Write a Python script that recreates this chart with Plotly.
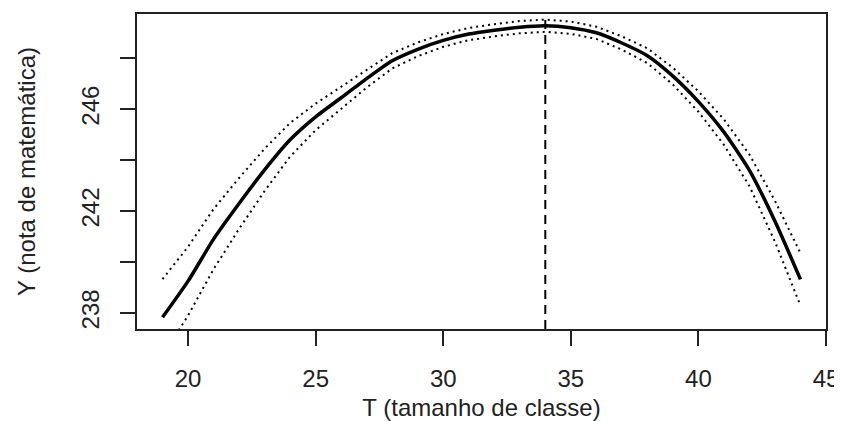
import plotly.graph_objects as go

# ---- data ----
T_vals = list(range(19, 45))
Y_fit = [237.83, 239.25, 240.9, 242.3, 243.62, 244.8, 245.7, 246.45, 247.2, 247.9,
         248.35, 248.7, 248.95, 249.1, 249.22, 249.28, 249.2, 249.0, 248.6, 248.1,
         247.3, 246.3, 245.1, 243.6, 241.6, 239.32]
half_width = [1.5, 1.35, 1.18, 1.0, 0.83, 0.66, 0.52, 0.42, 0.35, 0.3,
              0.27, 0.25, 0.24, 0.24, 0.24, 0.24, 0.24, 0.24, 0.26, 0.29,
              0.33, 0.4, 0.5, 0.62, 0.8, 1.03]
x_ticks = [20, 25, 30, 35, 40, 45]
y_ticks = [238, 240, 242, 244, 246, 248]
y_ticktext = ["238", "", "242", "", "246", ""]
x_title = "T (tamanho de classe)"
y_title = "Y (nota de matemática)"

upper = [y + h for y, h in zip(Y_fit, half_width)]
lower = [y - h for y, h in zip(Y_fit, half_width)]
T_opt = T_vals[Y_fit.index(max(Y_fit))]

FONT = "Liberation Sans"
INK = "#222"

fig = go.Figure()
fig.add_trace(go.Scatter(x=T_vals, y=upper, mode="lines",
                         line=dict(color="black", width=2, dash="2px,4px")))
fig.add_trace(go.Scatter(x=T_vals, y=lower, mode="lines",
                         line=dict(color="black", width=2, dash="2px,4px")))
fig.add_trace(go.Scatter(x=T_vals, y=Y_fit, mode="lines",
                         line=dict(color="black", width=3.5, shape="spline", smoothing=0.6)))
fig.add_shape(type="line", x0=T_opt, x1=T_opt, y0=0, y1=1, xref="x", yref="paper",
              line=dict(color="black", width=2, dash="9px,6px"))

xr = [min(T_vals) - 0.04 * (max(T_vals) - min(T_vals)),
      max(T_vals) + 0.04 * (max(T_vals) - min(T_vals))]
yr_span = max(Y_fit) - min(Y_fit)
yr = [min(Y_fit) - 0.04 * yr_span, max(Y_fit) + 0.04 * yr_span]

# page body has an 8px default margin, so the figure is sized to fit the window
fig.update_layout(
    width=834, height=413,
    margin=dict(l=129, r=16, t=6, b=92),
    paper_bgcolor="white", plot_bgcolor="white",
    showlegend=False,
    font=dict(family=FONT, size=24, color=INK),
)
fig.update_xaxes(
    range=xr, tickvals=x_ticks, ticks="outside", ticklen=15, tickwidth=1.5,
    tickcolor=INK, showgrid=False, zeroline=False, automargin=False,
    showline=True, mirror=True, linecolor=INK, linewidth=1.5,
    tickfont=dict(family=FONT, size=24, color=INK),
    ticklabelstandoff=12,
    title=dict(text=x_title, font=dict(family=FONT, size=24, color=INK), standoff=15),
)
fig.update_yaxes(
    range=yr, tickvals=y_ticks, ticktext=y_ticktext, tickangle=-90,
    ticks="outside", ticklen=15, tickwidth=1.5, tickcolor=INK,
    showgrid=False, zeroline=False, automargin=False,
    showline=True, mirror=True, linecolor=INK, linewidth=1.5,
    tickfont=dict(family=FONT, size=24, color=INK),
    ticklabelstandoff=12,
    title=dict(text=y_title, font=dict(family=FONT, size=24, color=INK), standoff=34),
)

fig.write_html("out.html")
